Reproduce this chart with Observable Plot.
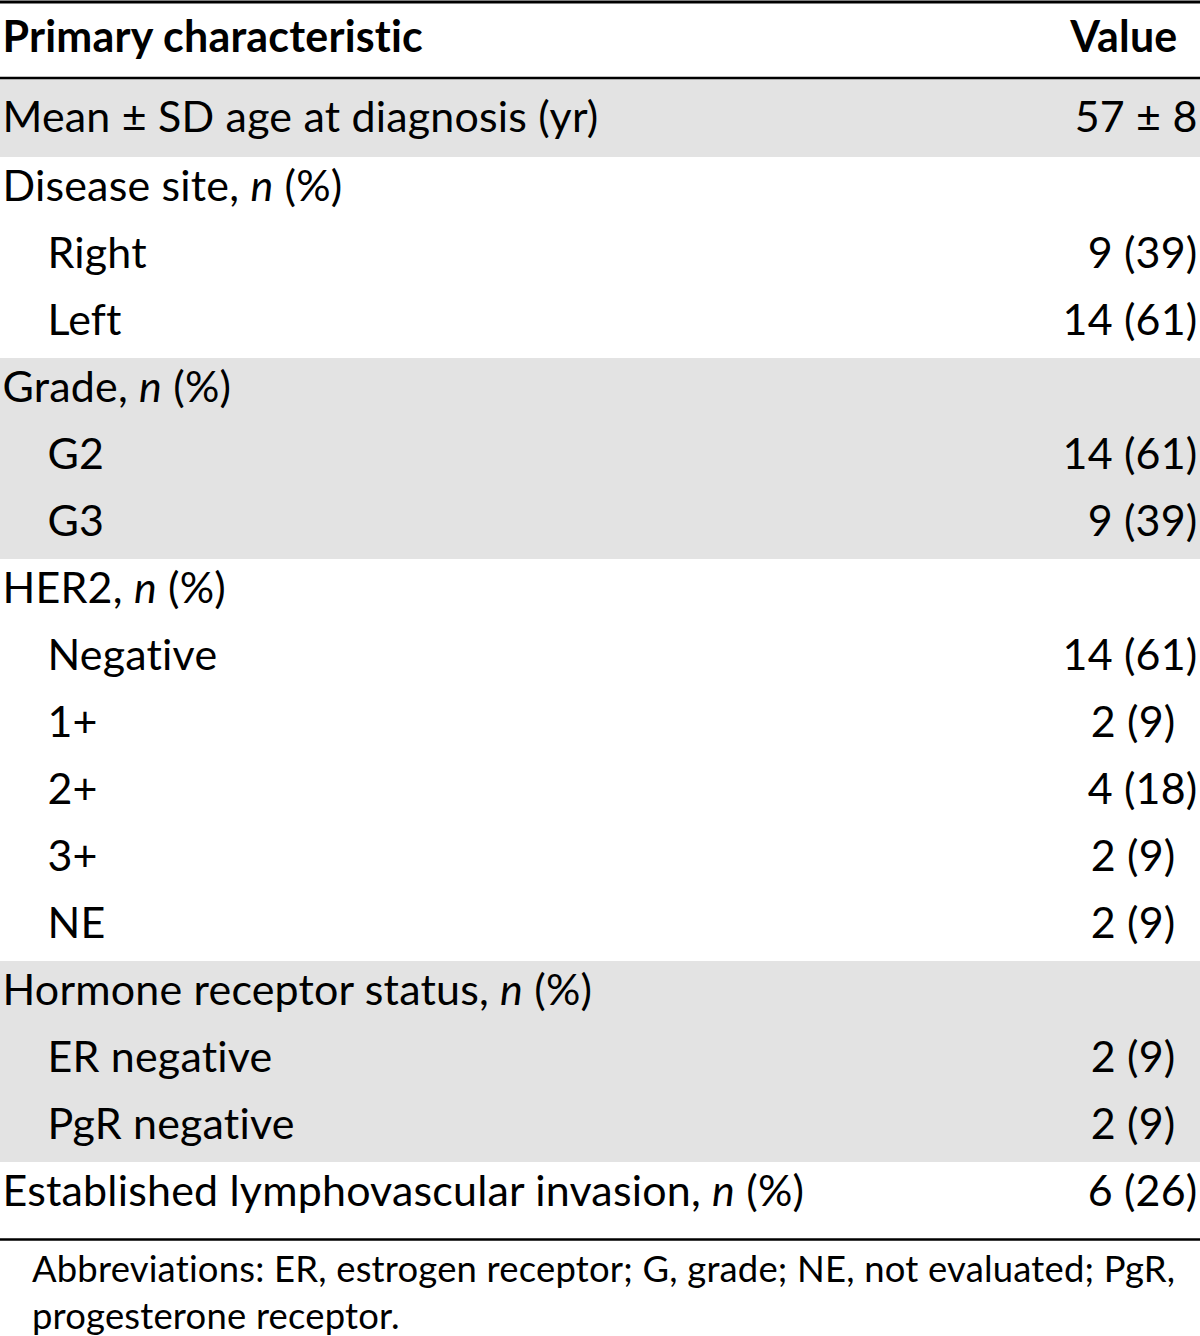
<!DOCTYPE html>
<html><head><meta charset="utf-8">
<script src="https://cdn.jsdelivr.net/npm/d3@7"></script>
<script src="https://cdn.jsdelivr.net/npm/@observablehq/plot@0.6"></script>
<style>
body{margin:0;background:#fff;font-family:Lato,"Open Sans",sans-serif;font-variant-ligatures:none;}
#chart svg{display:block;}
#chart svg text{font-variant-ligatures:none;font-feature-settings:"liga" 0,"clig" 0,"dlig" 0,"calt" 0;letter-spacing:0.2px;}
#caption{padding-left:32px;line-height:47px;margin-top:4px;white-space:nowrap;color:#000;font-feature-settings:"liga" 0,"clig" 0,"dlig" 0,"calt" 0;letter-spacing:0.2px;}
</style></head><body>
<div id="chart"></div>
<div id="caption"></div>
<script>
// ---- data ----
const headers = ["Primary characteristic", "Value"];
const characteristics = [
  "Mean ± SD age at diagnosis (yr)",
  "Disease site, n (%)", "Right", "Left",
  "Grade, n (%)", "G2", "G3",
  "HER2, n (%)", "Negative", "1+", "2+", "3+", "NE",
  "Hormone receptor status, n (%)", "ER negative", "PgR negative",
  "Established lymphovascular invasion, n (%)"
];
const levels   = [0, 0,1,1, 0,1,1, 0,1,1,1,1,1, 0,1,1, 0];
const groups   = [0, 1,1,1, 2,2,2, 3,3,3,3,3,3, 4,4,4, 5];
const counts   = [null, null,9,14, null,14,9, null,14,2,4,2,2, null,2,2, 6];
const percents = [null, null,39,61, null,61,39, null,61,9,18,9,9, null,9,9, 26];
const ageMean = 57, ageSD = 8;
const captionLines = ["Abbreviations: ER, estrogen receptor; G, grade; NE, not evaluated; PgR,", "progesterone receptor."];

// ---- layout ----
const W = 1200, H = 1241, headerBottom = 78;
const FONT = "Lato";
const ctx = document.createElement("canvas").getContext("2d");
ctx.font = `100px ${FONT}`;
const fs = Math.max(36, Math.min(52, 100 * 590 / ctx.measureText(characteristics[0]).width));
const capFs = 100 * 1130 / ctx.measureText(captionLines[0]).width;

const rowH = i => i === 0 ? 79 : (i === characteristics.length - 1 ? 76 : 67);
let yy = headerBottom;
const rows = characteristics.map((label, i) => {
  const y0 = yy, y1 = yy + rowH(i); yy = y1;
  let value = null;
  if (i === 0) value = `${ageMean} ± ${ageSD}`;
  else if (counts[i] != null) value = `${counts[i]} (${percents[i]})`;
  return {label, level: levels[i], group: groups[i], value, pct: percents[i], y0, y1, yc: i === 0 ? (y0 + y1) / 2 : y0 + 29.5};
});

const plot = Plot.plot({
  width: W, height: H,
  margin: 0,
  x: {domain: [0, W], range: [0, W], axis: null},
  y: {domain: [0, H], range: [0, H], axis: null},
  style: {fontFamily: FONT, background: "white"},
  marks: [
    Plot.rect(rows.filter(d => d.group % 2 === 0), {x1: 0, x2: W, y1: "y0", y2: "y1", fill: "#e3e3e3"}),
    Plot.ruleY([1.5], {stroke: "#000", strokeWidth: 3}),
    Plot.ruleY([headerBottom - 0.5], {stroke: "#000", strokeWidth: 2.5}),
    Plot.ruleY([yy + 1], {stroke: "#000", strokeWidth: 2.5}),
    Plot.text([headers[0]], {x: 2, y: 38, text: d => d, textAnchor: "start", fontWeight: "bold", fontSize: fs, fill: "#000"}),
    Plot.text([headers[1]], {x: 1177, y: 38, text: d => d, textAnchor: "end", fontWeight: "bold", fontSize: fs, fill: "#000"}),
    Plot.text(rows, {x: d => d.level ? 47 : 2, y: "yc", text: "label", textAnchor: "start", fontSize: fs, fill: "#000"}),
    Plot.text(rows.filter(d => d.value && !(d.pct != null && d.pct < 10)), {x: W - 3, y: "yc", text: "value", textAnchor: "end", fontSize: fs, fill: "#000"}),
    Plot.text(rows.filter(d => d.value && d.pct != null && d.pct < 10), {x: W - 3, dx: -22, y: "yc", text: "value", textAnchor: "end", fontSize: fs, fill: "#000"})
  ]
});

// italic "n"
d3.select(plot).selectAll("text").each(function() {
  const t = this.textContent;
  const m = t.match(/^(.*, )n( \(%\))$/);
  if (m) {
    const s = d3.select(this); s.text("");
    s.append("tspan").text(m[1]);
    s.append("tspan").attr("font-style", "italic").text("n");
    s.append("tspan").text(m[2]);
  }
});
document.getElementById("chart").appendChild(plot);
const cap = document.getElementById("caption");
cap.style.fontSize = capFs + "px";
cap.style.fontFamily = FONT;
captionLines.forEach((l, i) => { if (i) cap.appendChild(document.createElement("br")); cap.appendChild(document.createTextNode(l)); });
</script>
</body></html>
